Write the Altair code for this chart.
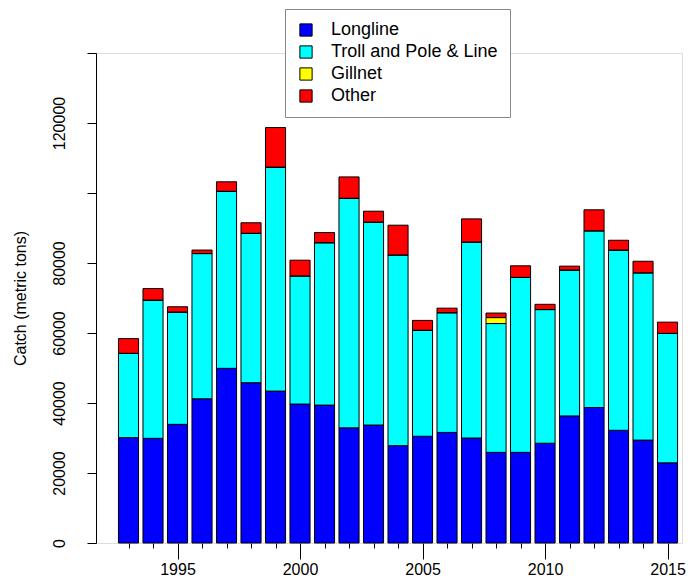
import altair as alt
import pandas as pd

years = list(range(1993, 2016))
longline = [30100, 29900, 33900, 41200, 49900, 45800, 43400, 39700, 39400, 32900, 33700, 27800,
            30500, 31600, 30000, 25900, 25900, 28500, 36300, 38700, 32200, 29400, 22900]
troll = [24100, 39500, 32100, 41500, 50600, 42700, 64000, 36600, 46400, 65600, 58000, 54500,
         30300, 34200, 56000, 36800, 50000, 38200, 41700, 50500, 51500, 47800, 37000]
gillnet = [0, 0, 0, 0, 0, 0, 0, 0, 0, 0, 0, 0,
           0, 0, 0, 1700, 0, 0, 0, 0, 0, 0, 0]
other = [4200, 3300, 1500, 1000, 2700, 3000, 11300, 4500, 2900, 6100, 3100, 8500,
         2800, 1300, 6600, 1300, 3300, 1500, 1100, 6000, 2800, 3300, 3200]

gears = ["Longline", "Troll and Pole & Line", "Gillnet", "Other"]
colors = ["#0000FF", "#00FFFF", "#FFFF00", "#FF0000"]
series = [longline, troll, gillnet, other]

rows = []
for i, y in enumerate(years):
    for k, (g, vals) in enumerate(zip(gears, series)):
        rows.append({"year": y, "gear": g, "order": k, "catch": vals[i]})
df = pd.DataFrame(rows)

FONT = "Liberation Sans"

bars = (
    alt.Chart(df)
    .transform_stack(stack="catch", as_=["c0", "c1"], groupby=["year"],
                     sort=[alt.SortField("order", order="ascending")])
    .transform_calculate(x0="datum.year - 0.41", x1="datum.year + 0.41")
    .mark_bar(stroke="black", strokeWidth=1)
    .encode(
        x=alt.X("x0:Q",
                scale=alt.Scale(domain=[1991.673, 2015.59], nice=False, zero=False),
                axis=alt.Axis(values=years, format="d", domain=False, grid=False,
                              labelExpr="datum.value % 5 === 0 ? datum.label : ''",
                              tickSize={"condition": {"test": "datum.value % 5 === 0", "value": 16}, "value": 5},
                              tickColor="black", labelFont=FONT, labelFontSize=16,
                              labelColor="black", labelPadding=2, labelBound=False,
                              labelFlush=False, title=None)),
        x2="x1:Q",
        y=alt.Y("c0:Q",
                scale=alt.Scale(domain=[0, 140000], nice=False),
                axis=alt.Axis(values=[0, 20000, 40000, 60000, 80000, 100000, 120000, 140000],
                              labelExpr="(datum.value == 100000 || datum.value == 140000) ? '' : datum.value",
                              labelAngle=-90, labelAlign="center", labelBaseline="bottom",
                              tickSize=9, tickColor="black", domainColor="black", grid=False,
                              labelFont=FONT, labelFontSize=16, labelColor="black",
                              labelPadding=20, title="Catch (metric tons)",
                              titleFont=FONT, titleFontSize=16, titleFontWeight="normal",
                              titleColor="black", titlePadding=23)),
        y2="c1:Q",
        color=alt.Color("gear:N",
                        scale=alt.Scale(domain=gears, range=colors),
                        legend=alt.Legend(title=None, orient="none", legendX=189, legendY=-44,
                                          direction="vertical", symbolType="square",
                                          symbolSize=150, symbolStrokeColor="black",
                                          symbolStrokeWidth=1, symbolOpacity=1,
                                          labelFont=FONT, labelFontSize=18, labelColor="black",
                                          labelLimit=400,
                                          labelOffset=16, rowPadding=4, padding=12,
                                          strokeColor="#888888", fillColor="white")),
    )
)

chart = (
    bars.properties(width=586, height=490,
                    autosize=alt.AutoSizeParams(type="none"),
                    padding={"left": 88, "top": 45, "right": 4, "bottom": 37})
    .configure_view(stroke=None)
    .configure(background="white")
)

chart.save("out.html", embed_options={"renderer": "svg", "actions": False})
